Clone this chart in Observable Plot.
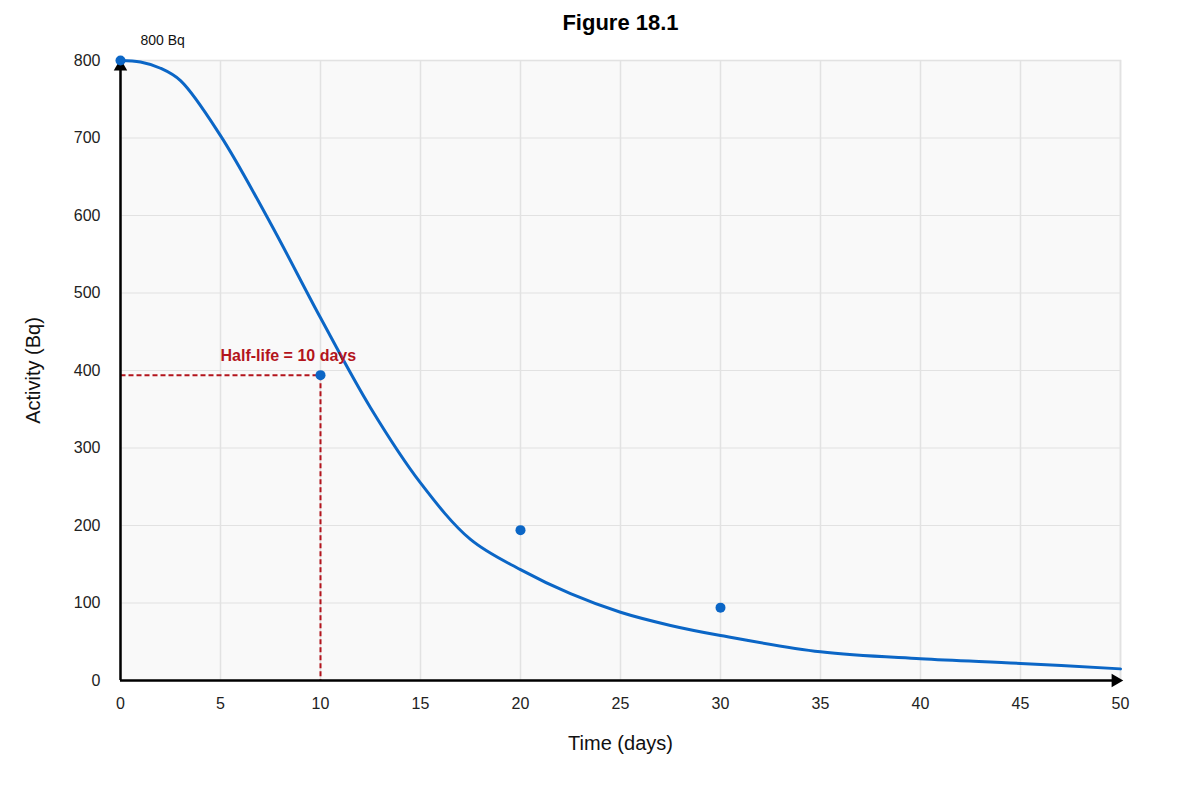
<!DOCTYPE html>
<html>
<head>
<meta charset="utf-8">
<script src="https://cdn.jsdelivr.net/npm/d3@7"></script>
<script src="https://cdn.jsdelivr.net/npm/@observablehq/plot@0.6"></script>
<style>
  html, body { margin: 0; padding: 0; background: #ffffff; }
  #chart { width: 1200px; height: 800px; }
  svg { font-family: "Liberation Sans", Arial, sans-serif; }
</style>
</head>
<body>
<div id="chart"></div>
<script>
// Fitted decay curve
const curveDays     = [0, 1, 2, 3, 5, 7.5, 10, 12.5, 15, 17.5, 20, 22.5, 25, 27.5, 30, 35, 40, 45, 50];
const curveActivity = [800, 798, 790, 774, 703, 590, 468, 352, 255, 182, 143, 112, 88, 71, 58, 37, 28, 22, 15];

// Measured points
const pointDays     = [0, 10, 20, 30];
const pointActivity = [800, 394, 194, 94];

// Half-life guide
const halfLifeDay = 10;
const halfLifeActivity = 394;
const halfLifeLabel = "Half-life = 10 days";
const halfLifeLabelPos = [5, 419];

// Start label
const startLabel = "800 Bq";
const startLabelPos = [1, 826];

// Axes / ticks
const xDomain = [0, 50];
const yDomain = [0, 800];
const xTicks = [0, 5, 10, 15, 20, 25, 30, 35, 40, 45, 50];
const yTicks = [0, 100, 200, 300, 400, 500, 600, 700, 800];

const title = "Figure 18.1";
const xLabel = "Time (days)";
const yLabel = "Activity (Bq)";

const curve = curveDays.map((d, i) => ({day: d, activity: curveActivity[i]}));
const points = pointDays.map((d, i) => ({day: d, activity: pointActivity[i]}));

const blue = "#0b66c6";
const red = "#b3141c";

const chart = Plot.plot({
  width: 1200,
  height: 800,
  marginLeft: 120,
  marginRight: 80,
  marginTop: 60,
  marginBottom: 120,
  style: {fontFamily: "Liberation Sans, Arial, sans-serif", background: "#ffffff"},
  x: {domain: xDomain, ticks: xTicks},
  y: {domain: yDomain, ticks: yTicks},
  marks: [
    Plot.frame({fill: "#f9f9f9", stroke: "#dddddd", strokeWidth: 1.5}),
    Plot.gridX(xTicks, {stroke: "#e2e2e2", strokeOpacity: 1, strokeWidth: 1.5}),
    Plot.gridY(yTicks, {stroke: "#e2e2e2", strokeOpacity: 1, strokeWidth: 1.2}),
    Plot.axisX(xTicks, {tickSize: 0, tickPadding: 17, fontSize: 16, fill: "#222", label: null}),
    Plot.axisY(yTicks, {tickSize: 0, tickPadding: 20, fontSize: 16, fill: "#222", label: null}),
    // half-life dashed guides
    Plot.link([{x1: xDomain[0], y1: halfLifeActivity, x2: halfLifeDay, y2: halfLifeActivity},
               {x1: halfLifeDay, y1: halfLifeActivity, x2: halfLifeDay, y2: yDomain[0]}],
      {x1: "x1", y1: "y1", x2: "x2", y2: "y2", stroke: red, strokeWidth: 2, strokeDasharray: "5,3"}),
    // axis lines
    Plot.ruleY([yDomain[0]], {stroke: "#000", strokeWidth: 2.5}),
    Plot.ruleX([xDomain[0]], {stroke: "#000", strokeWidth: 2.5}),
    Plot.dot([{x: xDomain[1], y: yDomain[0]}], {x: "x", y: "y", symbol: "triangle", rotate: 90, r: 5, fill: "#000", dx: -5}),
    Plot.dot([{x: xDomain[0], y: yDomain[1]}], {x: "x", y: "y", symbol: "triangle", rotate: 0, r: 5, fill: "#000", dy: 6}),
    // curve
    Plot.line(curve, {x: "day", y: "activity", stroke: blue, strokeWidth: 3, curve: "catmull-rom"}),
    Plot.dot(points, {x: "day", y: "activity", r: 5, fill: blue}),
    // labels
    Plot.text([halfLifeLabel], {x: halfLifeLabelPos[0], y: halfLifeLabelPos[1], text: d => d, fill: red, fontSize: 16, fontWeight: "bold", textAnchor: "start"}),
    Plot.text([startLabel], {x: startLabelPos[0], y: startLabelPos[1], text: d => d, fill: "#111", fontSize: 14, textAnchor: "start"}),
    Plot.text([title], {frameAnchor: "top", lineAnchor: "middle", dy: -38, text: d => d, fontSize: 22, fontWeight: "bold", fill: "#000"}),
    Plot.text([xLabel], {frameAnchor: "bottom", lineAnchor: "middle", dy: 63, text: d => d, fontSize: 20, fill: "#111"}),
    Plot.text([yLabel], {frameAnchor: "left", textAnchor: "middle", lineAnchor: "middle", dx: -87, rotate: -90, text: d => d, fontSize: 20, fill: "#111"})
  ]
});
document.getElementById("chart").appendChild(chart);
</script>
</body>
</html>
